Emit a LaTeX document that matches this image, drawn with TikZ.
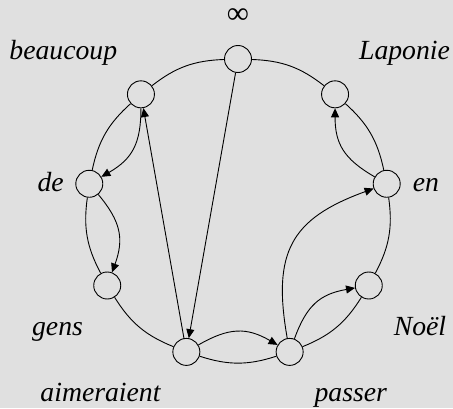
\documentclass[tikz,border=0pt]{standalone}
\usepackage{fontspec}
\setmainfont{Liberation Serif}
\usetikzlibrary{arrows.meta}
\definecolor{bg}{RGB}{224,224,224}
\begin{document}
\begin{tikzpicture}[x=1pt,y=1pt,
  vert/.style={circle,draw,fill=bg,line width=0.9pt,minimum size=27pt,inner sep=0pt},
  lbl/.style={inner sep=0pt,anchor=base,font=\fontsize{27.7}{30}\selectfont\itshape},
  rim/.style={line width=0.9pt,bend right=18},
  arr/.style={line width=0.9pt,-{Triangle[length=9pt,width=8pt]}},
  inarr/.style={arr,bend left=30,looseness=1.15}]
\fill[bg] (0,0) rectangle (453,408);
\useasboundingbox (0,0) rectangle (453,408);
\begin{scope}[shift={(238,198)}]
  \node[vert] (inf)  at (90:151)  {};
  \node[vert] (beau) at (130:151) {};
  \node[vert] (de)   at (170:151) {};
  \node[vert] (gens) at (210:151) {};
  \node[vert] (aim)  at (250:151) {};
  \node[vert] (pass) at (290:151) {};
  \node[vert] (noel) at (330:151) {};
  \node[vert] (en)   at (10:151)  {};
  \node[vert] (lap)  at (50:151)  {};
\end{scope}
% labels
\node[inner sep=0pt,font=\fontsize{31}{33}\selectfont] (linf) at (238,391.5) {∞};
\node[lbl] (lbeau) at (63.3,348.5) {beaucoup};
\node[lbl] (llap)  at (404.5,348.5) {Laponie};
\node[lbl] (lde)   at (50.7,216.3) {de};
\node[lbl] (len)   at (426,216.3) {en};
\node[lbl] (lgens) at (57.5,72.3) {gens};
\node[lbl] (lnoel) at (420,72.3) {Noël};
\node[lbl] (laim)  at (100.5,6.8) {aimeraient};
\node[lbl] (lpass) at (350.8,6.8) {passer};
% rim
\draw[rim] (inf) to (beau);
\draw[rim] (beau) to (de);
\draw[rim] (de) to (gens);
\draw[rim] (gens) to (aim);
\draw[rim] (aim) to (pass);
\draw[rim] (pass) to (noel);
\draw[rim] (noel) to (en);
\draw[rim] (en) to (lap);
\draw[rim] (lap) to (inf);
% arrows
\draw[arr] (inf) -- (aim);
\draw[arr] (aim) -- (beau);
\draw[inarr] (beau) to (de);
\draw[inarr] (de) to (gens);
\draw[inarr] (aim) to (pass);
\draw[inarr] (pass) to (noel);
\draw[inarr] (en) to (lap);
\draw[arr,bend left=40,looseness=1.3] (pass) to (en);
\end{tikzpicture}
\end{document}
